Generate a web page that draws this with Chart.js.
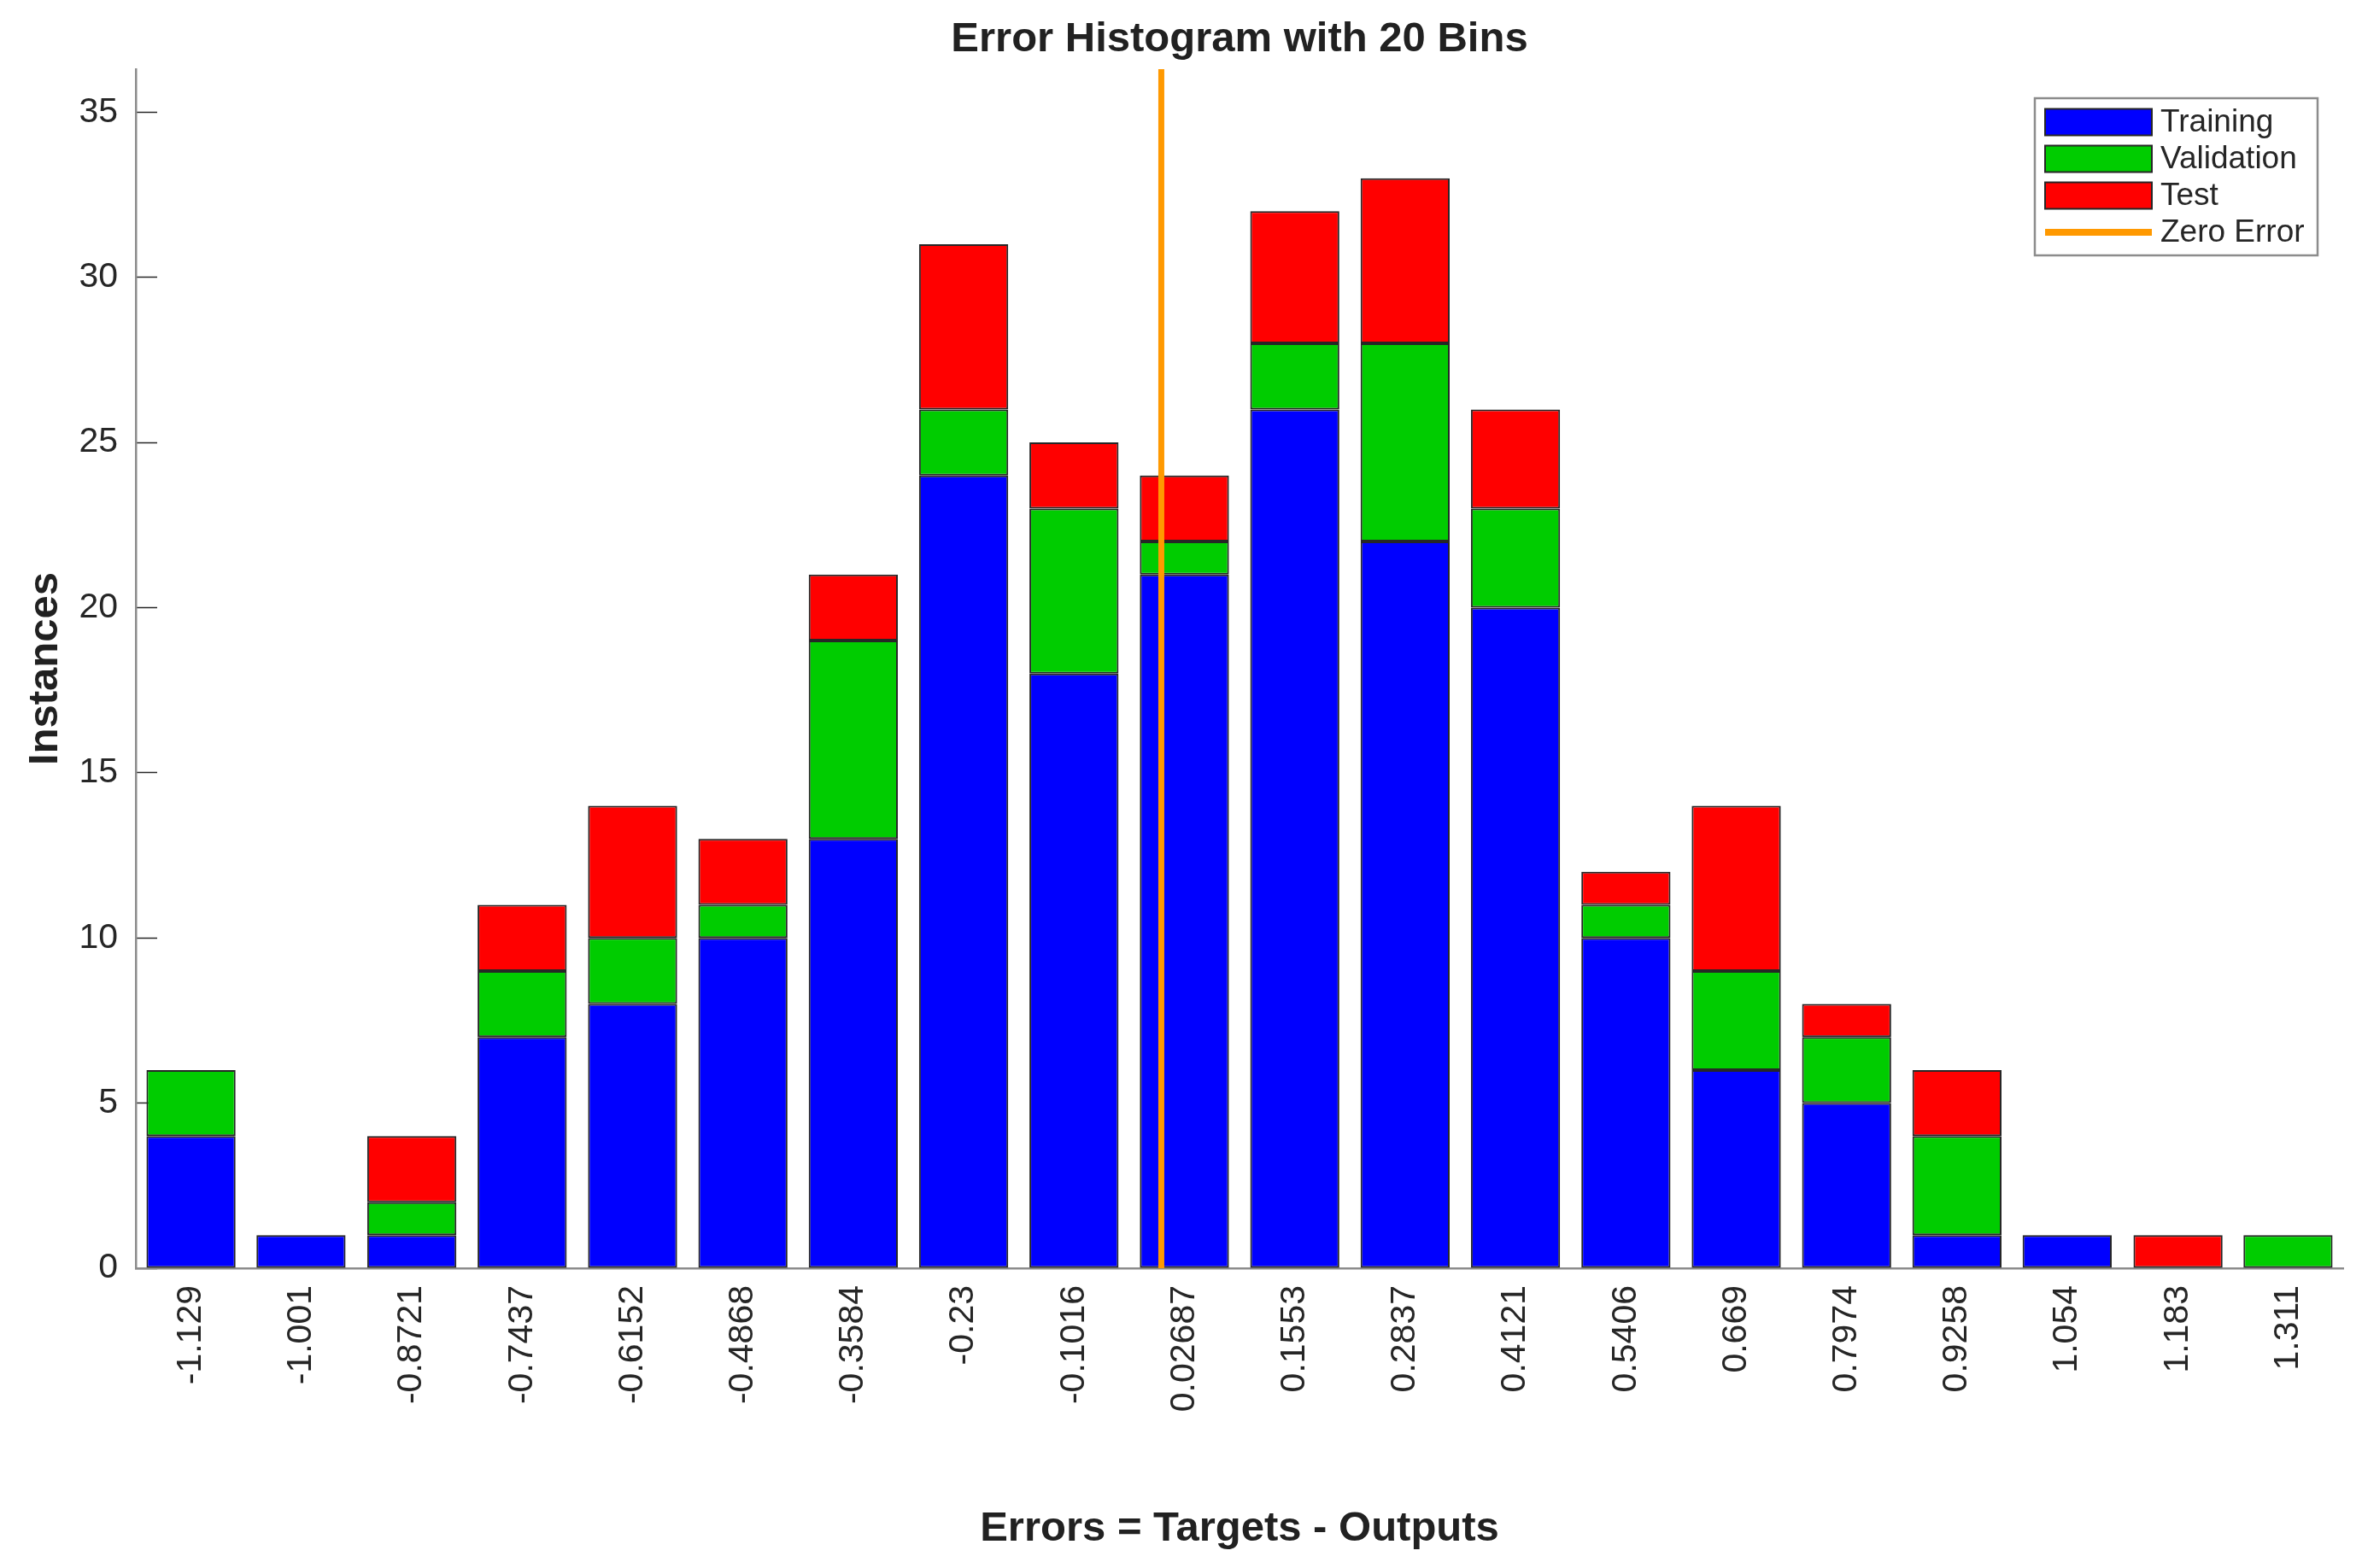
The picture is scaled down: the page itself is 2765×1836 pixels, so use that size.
<!DOCTYPE html>
<html>
<head>
<meta charset="utf-8">
<script src="https://cdn.jsdelivr.net/npm/chart.js@4.4.1/dist/chart.umd.min.js"></script>
<style>
html,body{margin:0;padding:0;background:#ffffff;}
canvas{display:block;}
</style>
</head>
<body>
<canvas id="c" width="2765" height="1836"></canvas>
<script>
// ---- data ----
const binCenters = [-1.129,-1.001,-0.8721,-0.7437,-0.6152,-0.4868,-0.3584,-0.23,-0.1016,0.02687,0.1553,0.2837,0.4121,0.5406,0.669,0.7974,0.9258,1.054,1.183,1.311];
const binLabels = ['-1.129','-1.001','-0.8721','-0.7437','-0.6152','-0.4868','-0.3584','-0.23','-0.1016','0.02687','0.1553','0.2837','0.4121','0.5406','0.669','0.7974','0.9258','1.054','1.183','1.311'];
const training   = [4,1,1,7,8,10,13,24,18,21,26,22,20,10,6,5,1,1,0,0];
const validation = [2,0,1,2,2,1,6,2,5,1,2,6,3,1,3,2,3,0,0,1];
const test       = [0,0,2,2,4,2,2,5,2,2,4,5,3,1,5,1,2,0,1,0];
const zeroErrorX = [0,0];
const zeroErrorY = [0,36.3];
const yTicks = [0,5,10,15,20,25,30,35];
const yMax = 36.3;

// ---- derived ----
const binWidth = (binCenters[binCenters.length-1]-binCenters[0])/(binCenters.length-1);
const xMin = binCenters[0]-binWidth/2;
const xMax = binCenters[binCenters.length-1]+binWidth/2;
const pts = (xs, ys) => xs.map((x,i)=>({x:x, y:ys[i]}));

const FONT = "'Liberation Sans', Arial, Helvetica, sans-serif";
Chart.defaults.font.family = FONT;
Chart.defaults.color = '#262626';

const COLORS = {training:'#0000ff', validation:'#00cc00', test:'#ff0000', zero:'#ff9900'};
const EDGE = '#262626';

const boxLegend = {
  id: 'boxLegend',
  afterDraw(chart) {
    const ctx = chart.ctx;
    const ca = chart.chartArea;
    const bw = 331, bh = 184;
    const bx = ca.right - 30 - bw;
    const by = ca.top + 34;
    ctx.save();
    ctx.fillStyle = '#ffffff';
    ctx.fillRect(bx, by, bw, bh);
    ctx.strokeStyle = '#8c8c8c';
    ctx.lineWidth = 2.5;
    ctx.strokeRect(bx, by, bw, bh);
    const items = chart.data.datasets.slice().sort((a,b)=>a.legendIndex-b.legendIndex);
    const rowStart = by + 28, rowStep = 43;
    const swX = bx + 12, swW = 125, swH = 31;
    ctx.font = '37px ' + FONT;
    ctx.textBaseline = 'middle';
    ctx.textAlign = 'left';
    items.forEach((d, i) => {
      const cy = rowStart + i*rowStep;
      if (d.type === 'line') {
        ctx.strokeStyle = d.borderColor;
        ctx.lineWidth = 8;
        ctx.beginPath();
        ctx.moveTo(swX, cy);
        ctx.lineTo(swX+swW, cy);
        ctx.stroke();
      } else {
        ctx.fillStyle = d.backgroundColor;
        ctx.fillRect(swX, cy-swH/2, swW, swH);
        ctx.strokeStyle = EDGE;
        ctx.lineWidth = 2;
        ctx.strokeRect(swX, cy-swH/2, swW, swH);
      }
      ctx.fillStyle = '#262626';
      ctx.fillText(d.label, swX + swW + 10, cy + 1);
    });
    ctx.restore();
  }
};

const barCommon = {type:'bar', borderColor:EDGE, borderWidth:2, borderSkipped:false, categoryPercentage:1.0, barPercentage:0.81};

new Chart(document.getElementById('c'), {
  data: {
    datasets: [
      Object.assign({label:'Training', data:pts(binCenters, training), backgroundColor:COLORS.training, legendIndex:0}, barCommon),
      Object.assign({label:'Validation', data:pts(binCenters, validation), backgroundColor:COLORS.validation, legendIndex:1}, barCommon),
      Object.assign({label:'Test', data:pts(binCenters, test), backgroundColor:COLORS.test, legendIndex:2}, barCommon),
      {type:'line', label:'Zero Error', data:pts(zeroErrorX, zeroErrorY), borderColor:COLORS.zero, backgroundColor:COLORS.zero,
       borderWidth:7, pointRadius:0, fill:false, order:-1, stack:'zero', legendIndex:3, clip:false}
    ]
  },
  options: {
    responsive:false,
    devicePixelRatio:1,
    animation:false,
    layout:{padding:{left:0,right:22,top:0,bottom:0}},
    plugins:{
      legend:{display:false},
      tooltip:{enabled:false},
      title:{display:true, text:'Error Histogram with 20 Bins', fullSize:false, color:'#212121',
        font:{size:49, weight:'bold', family:FONT}, padding:{top:16.6, bottom:5.6}}
    },
    scales:{
      x:{
        type:'linear', min:xMin, max:xMax, stacked:true, offset:false,
        afterBuildTicks:(s)=>{ s.ticks = binCenters.map(v=>({value:v})); },
        afterFit:(s)=>{ s.height = 351; },
        ticks:{autoSkip:false, minRotation:90, maxRotation:90, padding:20, color:'#262626',
          font:{size:41}, callback:(v,i)=>binLabels[i]},
        grid:{drawOnChartArea:false, drawTicks:false},
        border:{display:true, color:'#8c8c8c', width:2.5},
        title:{display:true, text:'Errors = Targets - Outputs', color:'#212121',
          font:{size:49, weight:'bold'}, padding:{top:0, bottom:16.6}}
      },
      y:{
        type:'linear', min:0, max:yMax, stacked:true,
        afterBuildTicks:(s)=>{ s.ticks = yTicks.map(v=>({value:v})); },
        afterFit:(s)=>{ s.width = 159; },
        ticks:{padding:46, color:'#262626', font:{size:41}},
        grid:{drawOnChartArea:false, drawTicks:true, tickLength:-25, tickColor:'#262626', tickWidth:1.5},
        border:{display:true, color:'#8c8c8c', width:2.5},
        title:{display:true, text:'Instances', color:'#212121',
          font:{size:49, weight:'bold'}, padding:{top:23.6, bottom:0}}
      }
    }
  },
  plugins:[boxLegend]
});
</script>
</body>
</html>
